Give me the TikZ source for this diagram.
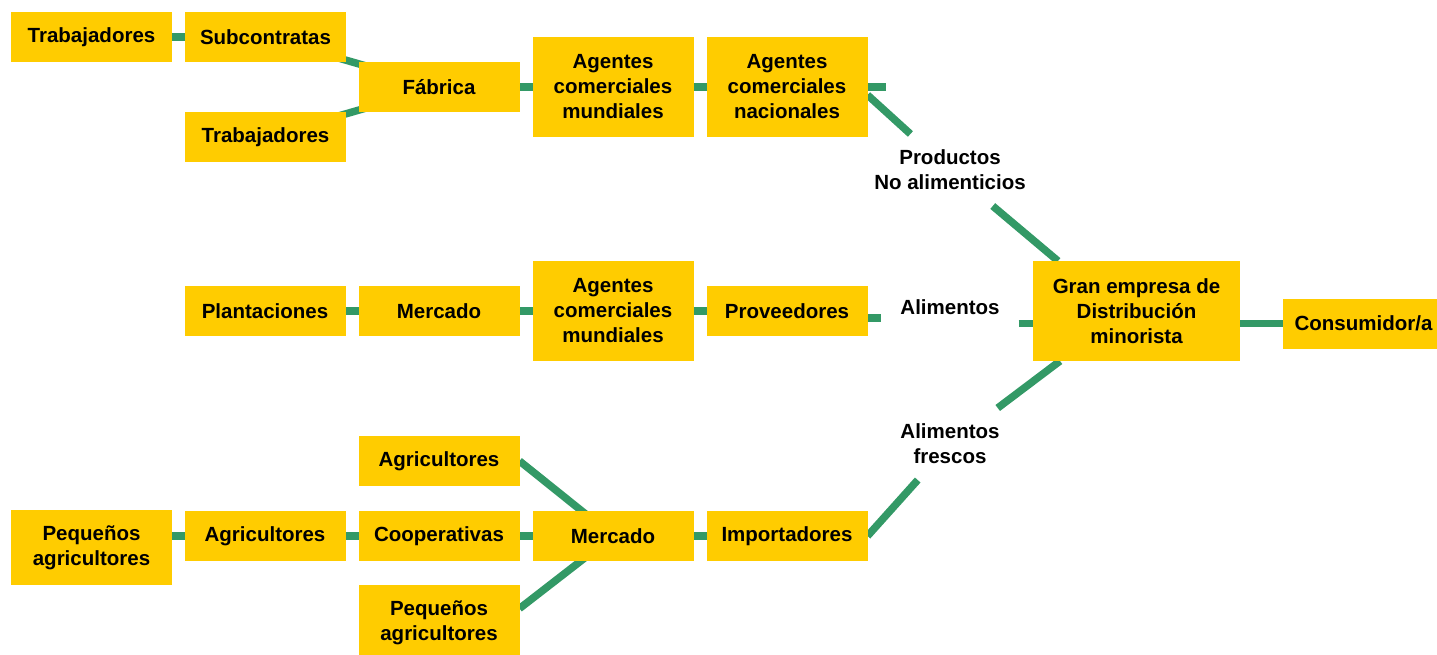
\documentclass[tikz,border=0pt]{standalone}
\usepackage{fontspec}
\setmainfont{Liberation Sans}
\usetikzlibrary{
    positioning,
    backgrounds
}
\definecolor{boxyellow}{HTML}{FFCC00}
\definecolor{linkgreen}{HTML}{339966}
\tikzset{%
    actor/.style={%
        rectangle,
        fill=boxyellow,
        inner sep = 2pt,
        outer sep = 0pt,
        minimum width=161pt,
        minimum height=50pt,
        align=center,
        font=\fontsize{20.5}{25}\selectfont\bfseries
    },
    big actor/.style={%
        actor,
        minimum height=100pt,
    },
    double actor/.style={%
        actor,
        minimum height=75pt,
    },
    flow label/.style={%
        rectangle,
        inner xsep = 19pt,
        inner ysep = 16pt,
        outer sep = 0pt,
        align=center,
        font=\fontsize{20.5}{25}\selectfont\bfseries
    },
    link/.style={%
        draw=linkgreen,
        line width=7.5pt,
    },
}

\begin{document}
\begin{tikzpicture}[x=1pt, y=-1pt, node distance=13pt]
    \useasboundingbox (0,0) rectangle (1437,655);

    \node[actor] (trab-a) at (91.5,37) {Trabajadores};
    \node[actor, right=of trab-a] (subc) {Subcontratas};
    \node[actor, below=50pt of subc] (trab-b) {Trabajadores};
    \node[actor] (fab) at (439,87) {Fábrica};
    \node[big actor, right=of fab] (agm-a) {Agentes\\comerciales\\mundiales};
    \node[big actor, right=of agm-a] (agn) {Agentes\\comerciales\\nacionales};
    \coordinate[right=18pt of agn.east] (nstub);

    \node[actor] (plant) at (265,311) {Plantaciones};
    \node[actor, right=of plant] (merc-a) {Mercado};
    \node[big actor, right=of merc-a] (agm-b) {Agentes\\comerciales\\mundiales};
    \node[actor, right=of agm-b] (prov) {Proveedores};

    \node[double actor] (peq-a) at (91.5,547.5) {Pequeños\\agricultores};
    \node[actor] (agr-a) at (265,536) {Agricultores};
    \node[actor, right=of agr-a] (coop) {Cooperativas};
    \node[actor, right=of coop] (merc-b) {Mercado};
    \node[actor, right=of merc-b] (imp) {Importadores};
    \node[actor, above=25pt of coop] (agr-b) {Agricultores};
    \node[double actor, below=24pt of coop] (peq-b) {Pequeños\\agricultores};

    \node[flow label] (prod) at (950,170) {Productos\\No alimenticios};
    \node[flow label] (alim) at (950,307) {Alimentos};
    \node[flow label] (fresc) at (950,444) {Alimentos\\frescos};

    \node[big actor, minimum width=207pt] (gran) at (1136.5,311) {Gran empresa de\\Distribución\\minorista};
    \node[actor, anchor=west] (cons) at (1283,323.5) {Consumidor/a};

    \begin{pgfonlayer}{background}
        \draw[link] (trab-a) -- (subc);
        \draw[link] (subc.center) -- (fab.center);
        \draw[link] (trab-b.center) -- (fab.center);
        \draw[link] (fab) -- (agm-a) -- (agn);
        \draw[link] (agn.east) -- (nstub);
        \draw[link] ([yshift=-8pt]agn.east) -- (prod);
        \draw[link] (prod) -- ([xshift=25pt]gran.north west);

        \draw[link] (plant) -- (merc-a) -- (agm-b) -- (prov);
        \draw[link] ([yshift=-7pt]prov.east) -- ([yshift=-7pt]prov.east -| alim.west);
        \draw[link] (alim.east |- cons.west) -- (cons.west);

        \draw[link] (agr-a.west -| peq-a.east) -- (agr-a.west);
        \draw[link] (agr-a) -- (coop) -- (merc-b) -- (imp);
        \draw[link] (agr-b.east) -- (merc-b.center);
        \draw[link] ([yshift=14pt]peq-b.east) -- (merc-b.center);
        \draw[link] (imp.east) -- (fresc);
        \draw[link] (fresc) -- ([xshift=27pt]gran.south west);
    \end{pgfonlayer}
\end{tikzpicture}
\end{document}
